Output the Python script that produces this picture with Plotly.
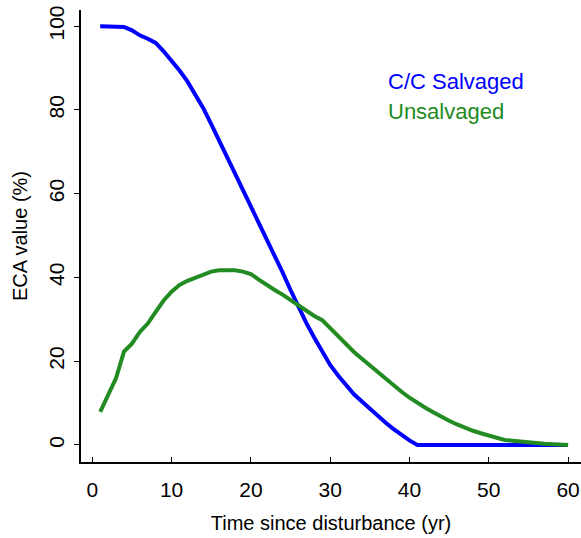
import plotly.graph_objects as go

years = list(range(1, 61))
salvaged = [100, 100, 100, 99.8, 99, 97.8, 97, 96, 94, 91.8,
            89.4, 86.8, 83.8, 80.4, 76.6, 72.7, 68.9, 65, 61.2, 57.3,
            53.3, 49.3, 45.2, 41.2, 37, 32.8, 29.1, 25.6, 22.2, 19.1,
            16.6, 14.2, 12.1, 10.4, 8.6, 6.9, 5.3, 3.8, 2.4, 1.1,
            0, 0, 0, 0, 0, 0, 0, 0, 0, 0,
            0, 0, 0, 0, 0, 0, 0, 0, 0, 0]
unsalvaged = [7.9, 12, 16, 22.3, 24.2, 27, 29, 31.8, 34.5, 36.6,
              38.2, 39.2, 40, 40.8, 41.4, 41.7, 41.7, 41.7, 41.4, 40.8,
              39.5, 38.2, 37, 35.9, 34.6, 33.2, 32, 30.8, 29.8, 27.9,
              25.9, 24, 22.2, 20.6, 19, 17.3, 15.8, 14.2, 12.7, 11.3,
              10.0, 8.9, 7.8, 6.7, 5.8, 4.9, 4.1, 3.4, 2.8, 2.2,
              1.7, 1.2, 1.0, 0.9, 0.7, 0.5, 0.3, 0.2, 0.1, 0]
series_names = ["C/C Salvaged", "Unsalvaged"]
series_colors = ["#0000FF", "#228B22"]
x_ticks = [0, 10, 20, 30, 40, 50, 60]
y_ticks = [0, 20, 40, 60, 80, 100]

fig = go.Figure()
for vals, name, col in zip([salvaged, unsalvaged], series_names, series_colors):
    fig.add_trace(go.Scatter(x=years, y=vals, mode="lines", name=name,
                             line=dict(color=col, width=4), showlegend=False))

font_family = "Liberation Sans, Arial, sans-serif"
for i, (name, col) in enumerate(zip(series_names, series_colors)):
    fig.add_annotation(x=37.1, y=86.7 - i * 7.2, xref="x", yref="y", text=name,
                       showarrow=False, xanchor="left", yanchor="middle",
                       font=dict(color=col, size=22, family=font_family))

fig.update_layout(
    width=581, height=538,
    margin=dict(l=81, r=0, t=10, b=76),
    paper_bgcolor="white", plot_bgcolor="white",
    font=dict(family=font_family, color="black"),
    xaxis=dict(range=[-1.42, 61.63], tickvals=x_ticks, ticks="inside", ticklen=5,
               tickwidth=1, tickcolor="black", showline=True, linecolor="black",
               linewidth=2, showgrid=False, zeroline=False,
               tickfont=dict(size=21), ticklabelstandoff=8,
               title=dict(text="Time since disturbance (yr)", font=dict(size=20), standoff=16)),
    yaxis=dict(range=[-4.06, 103.85], tickvals=y_ticks, ticks="outside", ticklen=5,
               tickwidth=1, tickcolor="black", showline=True, linecolor="black",
               linewidth=2, showgrid=False, zeroline=False, tickangle=-90,
               tickfont=dict(size=21), ticklabelstandoff=2,
               title=dict(text="ECA value (%)", font=dict(size=20), standoff=12)),
)

fig.write_html("out.html")
